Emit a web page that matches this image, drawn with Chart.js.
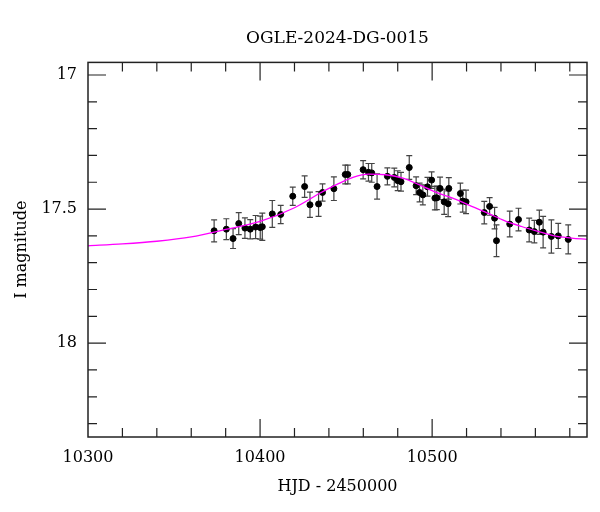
<!DOCTYPE html>
<html lang="en">

<head>
    <meta charset="UTF-8">
    <title>OGLE-2024-DG-0015</title>
    <style>
        body {
            margin: 0;
            background: #fff;
        }

        #wrap {
            width: 600px;
            height: 512px;
        }
    </style>
</head>

<body>
    <div id="wrap"><canvas id="lc"></canvas></div>

    <script src="https://cdn.jsdelivr.net/npm/chart.js@4/dist/chart.umd.min.js"></script>
    <script>
        // photometry (HJD - 2450000, I mag, error)
        const hjd = [
            10373.3, 10380.4, 10384.3, 10387.6, 10391.2, 10394.3, 10397.4, 10400.1, 10401.3, 10407.1,
            10412.0, 10419.0, 10425.9, 10429.0, 10434.0, 10436.3, 10442.9, 10449.5, 10451.0, 10459.9,
            10463.0, 10464.9, 10468.0, 10474.0, 10478.0, 10480.0, 10481.9, 10486.7, 10490.7, 10492.7,
            10494.6, 10497.3, 10499.7, 10501.6, 10502.7, 10504.6, 10507.0, 10509.3, 10509.7, 10516.4,
            10517.8, 10519.7, 10530.3, 10533.4, 10536.3, 10537.4, 10545.1, 10550.2, 10556.4, 10559.4,
            10562.3, 10564.5, 10569.3, 10573.3, 10579.1
        ];
        const mag = [
            17.581, 17.575, 17.610, 17.554, 17.571, 17.575, 17.567, 17.569, 17.566, 17.518,
            17.520, 17.452, 17.416, 17.484, 17.481, 17.438, 17.424, 17.371, 17.371, 17.353,
            17.363, 17.365, 17.416, 17.378, 17.382, 17.394, 17.398, 17.345, 17.413, 17.438,
            17.447, 17.417, 17.392, 17.459, 17.458, 17.423, 17.473, 17.480, 17.423, 17.442,
            17.470, 17.473, 17.513, 17.490, 17.534, 17.618, 17.556, 17.539, 17.578, 17.584,
            17.549, 17.586, 17.602, 17.600, 17.613
        ];
        const magErr = [
            0.041, 0.039, 0.037, 0.041, 0.038, 0.036, 0.043, 0.043, 0.051, 0.050,
            0.034, 0.034, 0.040, 0.047, 0.046, 0.032, 0.044, 0.035, 0.035, 0.034,
            0.033, 0.035, 0.047, 0.032, 0.035, 0.037, 0.035, 0.044, 0.033, 0.035,
            0.037, 0.035, 0.031, 0.044, 0.044, 0.042, 0.047, 0.048, 0.040, 0.039,
            0.041, 0.044, 0.042, 0.033, 0.040, 0.059, 0.048, 0.042, 0.044, 0.042,
            0.045, 0.059, 0.062, 0.047, 0.054
        ];

        // model curve
        const modelHjd = [
            10300, 10320, 10340, 10360, 10380, 10400, 10420, 10435, 10445, 10454,
            10463, 10473, 10483, 10492, 10502, 10513, 10523, 10533, 10542, 10552,
            10562, 10571, 10581, 10590
        ];
        const modelMag = [
            17.637, 17.630, 17.620, 17.604, 17.576, 17.546, 17.495, 17.440, 17.407, 17.382,
            17.370, 17.372, 17.385, 17.408, 17.437, 17.462, 17.490, 17.517, 17.543, 17.565,
            17.584, 17.600, 17.608, 17.613
        ];

        const xMajor = [10300, 10400, 10500];
        const yMajor = [17, 17.5, 18];

        const serif = "'DejaVu Serif', 'Liberation Serif', serif";

        // error bars + framed box with inward ticks
        const decor = {
            id: "decor",
            beforeDatasetsDraw(chart) {
                const ctx = chart.ctx;
                const x = chart.scales.x, y = chart.scales.y;
                ctx.save();
                ctx.strokeStyle = "#444";
                ctx.lineWidth = 1.2;
                hjd.forEach((t, i) => {
                    const px = x.getPixelForValue(t);
                    const y1 = y.getPixelForValue(mag[i] - magErr[i]);
                    const y2 = y.getPixelForValue(mag[i] + magErr[i]);
                    ctx.beginPath();
                    ctx.moveTo(px, y1); ctx.lineTo(px, y2);
                    ctx.moveTo(px - 3, y1); ctx.lineTo(px + 3, y1);
                    ctx.moveTo(px - 3, y2); ctx.lineTo(px + 3, y2);
                    ctx.stroke();
                });
                ctx.restore();
            },
            afterDraw(chart) {
                const ctx = chart.ctx;
                const a = chart.chartArea;
                const x = chart.scales.x, y = chart.scales.y;
                ctx.save();
                ctx.strokeStyle = "#222";
                ctx.lineWidth = 1.5;
                ctx.strokeRect(a.left, a.top, a.right - a.left, a.bottom - a.top);
                ctx.lineWidth = 1.2;
                ctx.beginPath();
                for (let t = 10320; t < x.max; t += 20) {
                    const px = x.getPixelForValue(t);
                    const len = xMajor.includes(t) ? 18 : 9;
                    ctx.moveTo(px, a.bottom); ctx.lineTo(px, a.bottom - len);
                    ctx.moveTo(px, a.top); ctx.lineTo(px, a.top + len);
                }
                for (let k = 170; k <= 183; k++) {
                    const m = k / 10;
                    const py = y.getPixelForValue(m);
                    const len = yMajor.includes(m) ? 18 : 9;
                    ctx.moveTo(a.left, py); ctx.lineTo(a.left + len, py);
                    ctx.moveTo(a.right, py); ctx.lineTo(a.right - len, py);
                }
                ctx.stroke();
                ctx.restore();
            }
        };

        new Chart(document.getElementById("lc"), {
            type: "scatter",
            data: {
                datasets: [
                    {
                        data: hjd.map((t, i) => ({ x: t, y: mag[i] })),
                        backgroundColor: "#000",
                        borderColor: "#000",
                        pointRadius: 3,
                        order: 2
                    },
                    {
                        type: "line",
                        data: modelHjd.map((t, i) => ({ x: t, y: modelMag[i] })),
                        borderColor: "#ff00ff",
                        borderWidth: 1.3,
                        pointRadius: 0,
                        cubicInterpolationMode: "monotone",
                        order: 1
                    }
                ]
            },
            options: {
                responsive: true,
                maintainAspectRatio: false,
                animation: false,
                layout: { padding: { left: 0, right: 13, top: 0, bottom: 0 } },
                plugins: {
                    legend: { display: false },
                    tooltip: { enabled: false },
                    title: {
                        display: true,
                        text: "OGLE-2024-DG-0015",
                        fullSize: false,
                        color: "#000",
                        font: { family: serif, size: 17, weight: "normal" },
                        padding: { top: 28, bottom: 14 }
                    }
                },
                scales: {
                    x: {
                        type: "linear",
                        min: 10300,
                        max: 10590,
                        grid: { display: false, drawTicks: false },
                        border: { display: false },
                        afterBuildTicks: s => { s.ticks = xMajor.map(v => ({ value: v })); },
                        afterFit: s => { s.height = 75; },
                        ticks: {
                            autoSkip: false,
                            maxRotation: 0,
                            padding: 11,
                            color: "#000",
                            font: { family: serif, size: 16 },
                            callback: v => String(v)
                        },
                        title: {
                            display: true,
                            text: "HJD - 2450000",
                            color: "#000",
                            font: { family: serif, size: 16 },
                            padding: { top: 4, bottom: 16 }
                        }
                    },
                    y: {
                        type: "linear",
                        reverse: true,
                        min: 16.953,
                        max: 18.35,
                        grid: { display: false, drawTicks: false },
                        border: { display: false },
                        afterBuildTicks: s => { s.ticks = yMajor.map(v => ({ value: v })); },
                        afterFit: s => { s.width = 88; },
                        ticks: {
                            autoSkip: false,
                            padding: 11,
                            color: "#000",
                            font: { family: serif, size: 16 },
                            callback: v => String(v)
                        },
                        title: {
                            display: true,
                            text: "I magnitude",
                            color: "#000",
                            font: { family: serif, size: 16 },
                            padding: { top: 12, bottom: 4 }
                        }
                    }
                }
            },
            plugins: [decor]
        });
    </script>
</body>

</html>
